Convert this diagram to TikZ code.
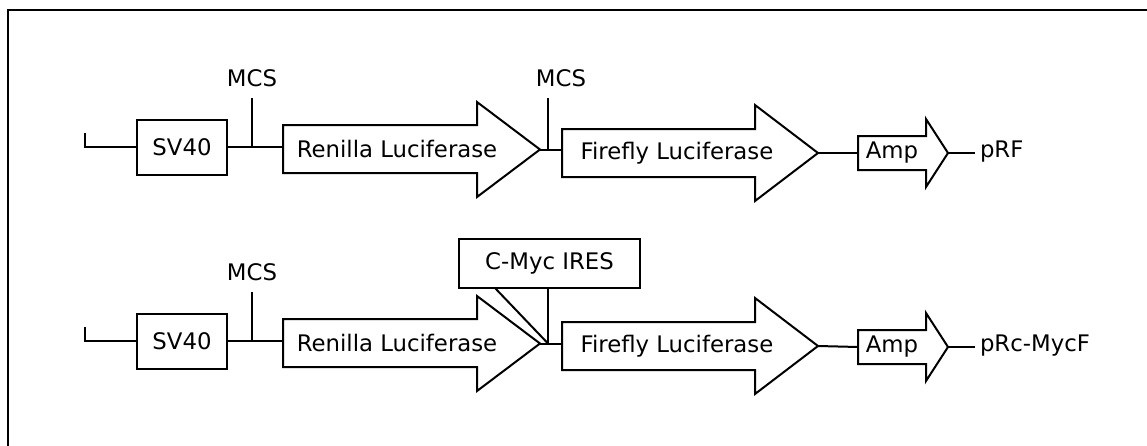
\documentclass[tikz,border=0pt]{standalone}
\usepackage{fontspec}
\setmainfont{DejaVu Sans}
\begin{document}
\begin{tikzpicture}[x=0.5pt,y=-0.5pt,
  line width=1pt, line join=miter,
  lbl/.style={font=\fontsize{11.4}{13}\selectfont, inner sep=0pt},
  sbox/.style={draw, line width=1pt, minimum width=45pt, minimum height=27.5pt, inner sep=0pt, font=\fontsize{11.4}{13}\selectfont},
  gene/.style={draw, line width=1pt, fill=white}]
\useasboundingbox (0,0) rectangle (1147,445);
\clip (0,0) rectangle (1147,445);
% frame
\draw[line width=1pt] (8,460) -- (8,10) -- (1160,10);

% ================= Row 1 =================
\coordinate (t1a) at (85,133);
\coordinate (t1b) at (85,147);
\node[sbox] (sv1) at (182,147) {SV40};
% Renilla
\draw[gene] (283,125) -- (477,125) -- (477,102) -- (540,149.5) -- (477,197) -- (477,173) -- (283,173) -- cycle;
\coordinate (r1w) at (283,147);
\coordinate (r1t) at (540,149.5);
\node[lbl] (r1l) at (397,149) {Renilla Luciferase};
% Firefly
\draw[gene] (562,129) -- (755,129) -- (755,105) -- (818,153) -- (755,201) -- (755,177) -- (562,177) -- cycle;
\coordinate (f1w) at (562,149.5);
\coordinate (f1t) at (818,153);
\node[lbl] (f1l) at (677,153) {Firefly Luciferase};
% Amp
\draw[gene] (858,136) -- (926,136) -- (926,119) -- (948,153) -- (926,187) -- (926,170) -- (858,170) -- cycle;
\coordinate (a1w) at (858,153);
\coordinate (a1t) at (948,153);
\node[lbl] (a1l) at (892,153) {Amp};
\coordinate (p1e) at (975,153);
\node[lbl, anchor=west] (p1) at (979,152) {pRF};
% backbone
\draw (t1a) -- (t1b) -- (sv1.west |- t1b);
\draw (sv1.east) -- (r1w);
\draw (r1t) -- (f1w);
\draw (f1t) -- (a1w);
\draw (a1t) -- (p1e);
% MCS ticks
\coordinate (m1b) at (252,147);
\coordinate (m1t) at (252,98);
\draw (m1b) -- (m1t);
\node[lbl] (m1l) at (252,78) {MCS};
\coordinate (m2b) at (548,149.5);
\coordinate (m2t) at (548,98);
\draw (m2b) -- (m2t);
\node[lbl] (m2l) at (561,78) {MCS};

% ================= Row 2 =================
\coordinate (t2a) at (85,327);
\coordinate (t2b) at (85,341);
\node[sbox] (sv2) at (182,341) {SV40};
% Renilla
\draw[gene] (283,319) -- (477,319) -- (477,296) -- (540,343.5) -- (477,391) -- (477,367) -- (283,367) -- cycle;
\coordinate (r2w) at (283,341);
\coordinate (r2t) at (540,343.5);
\node[lbl] (r2l) at (397,343) {Renilla Luciferase};
% Firefly
\draw[gene] (562,322) -- (755,322) -- (755,298) -- (818,346) -- (755,394) -- (755,370) -- (562,370) -- cycle;
\coordinate (f2w) at (562,343.5);
\coordinate (f2t) at (818,346);
\node[lbl] (f2l) at (677,346) {Firefly Luciferase};
% Amp
\draw[gene] (858,330) -- (926,330) -- (926,313) -- (948,347) -- (926,381) -- (926,364) -- (858,364) -- cycle;
\coordinate (a2w) at (858,347);
\coordinate (a2t) at (948,347);
\node[lbl] (a2l) at (892,347) {Amp};
\coordinate (p2e) at (975,347);
\node[lbl, anchor=west] (p2) at (979,346) {pRc-MycF};
% backbone
\draw (t2a) -- (t2b) -- (sv2.west |- t2b);
\draw (sv2.east) -- (r2w);
\draw (r2t) -- (f2w);
\draw (f2t) -- (a2w);
\draw (a2t) -- (p2e);
% MCS tick
\coordinate (m3b) at (252,341);
\coordinate (m3t) at (252,292);
\draw (m3b) -- (m3t);
\node[lbl] (m3l) at (252,272) {MCS};
% C-Myc IRES
\node[draw, line width=1pt, fill=white, minimum width=90.5pt, minimum height=24.5pt, inner sep=0pt,
      font=\fontsize{11.4}{13}\selectfont] (ires) at (549.5,263.5) {C-Myc IRES};
\coordinate (ij) at (548,343.5);
\coordinate (il) at (495,288);
\draw (il) -- (ij);
\draw (ires.south -| ij) -- (ij);
\end{tikzpicture}
\end{document}
